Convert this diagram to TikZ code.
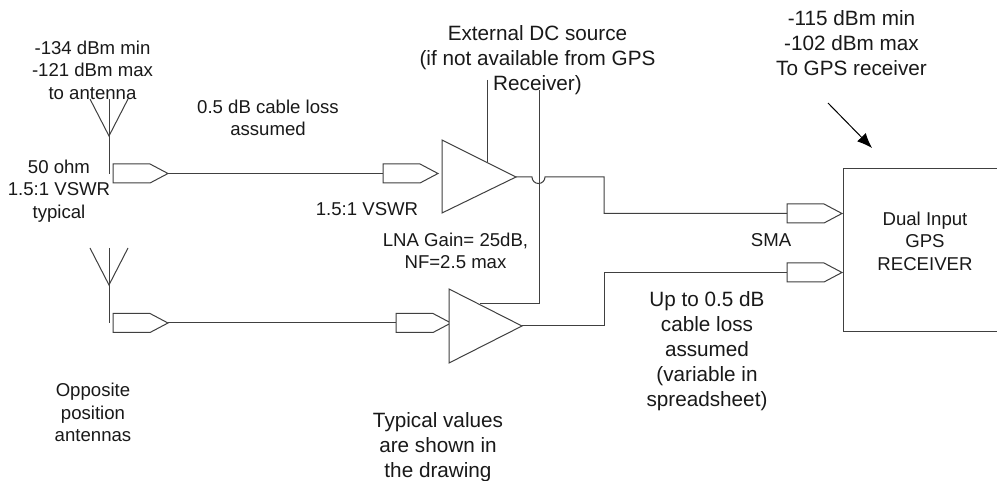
\documentclass[tikz,border=0pt]{standalone}
\usepackage{fontspec}
\setmainfont{Liberation Sans}
\usetikzlibrary{arrows.meta}
\tikzset{
  wire/.style={draw=black!75,line width=1pt,line join=miter},
  lbl/.style={align=center,font=\fontsize{18.6}{22.5}\selectfont,text=black!90,inner sep=0pt,anchor=center},
  lblwide/.style={lbl,font=\fontsize{20.7}{24.9}\selectfont},
  conn/.style={wire,fill=white},
  amp/.style={wire,fill=white}
}
\newcommand{\plug}[4]{% name, left x, centre y, (unused)
  \path[conn] (#2,#3-9.5) coordinate (#1top) -- (#2+37,#3-9.5) -- (#2+55,#3) coordinate (#1tip) -- (#2+37,#3+9.5) -- (#2,#3+9.5) -- cycle;
  \coordinate (#1in) at (#2,#3);
}
\begin{document}
\begin{tikzpicture}[x=1pt,y=-1pt]
\useasboundingbox (0,0) rectangle (997,481);
\fill[white] (0,0) rectangle (997,481);
% antennas
\coordinate (a1top) at (109,99); \coordinate (a1mid) at (109,136); \coordinate (a1bot) at (109,174);
\draw[wire] (a1top) -- (a1bot);
\draw[wire] (90,99) -- (a1mid) -- (128,99);
\coordinate (a2top) at (109,248); \coordinate (a2mid) at (109,285); \coordinate (a2bot) at (109,323);
\draw[wire] (a2top) -- (a2bot);
\draw[wire] (90,248) -- (a2mid) -- (128,248);
% plugs
\plug{pa}{113}{173.5}{}
\plug{pb}{383}{173.5}{}
\plug{pc}{113}{323}{}
\plug{pd}{396}{323}{}
\plug{pe}{787}{213.5}{}
\plug{pf}{787}{272.5}{}
\draw[wire] (patip) -- (pbin);
\draw[wire] (pctip) -- (pdin);
% amps
\path[amp] (442,140) coordinate (u1a) -- (516,177) coordinate (u1out) -- (442,213) -- cycle;
\path[amp] (449,289) coordinate (u2a) -- (522,326) coordinate (u2out) -- (449,363) -- cycle;
\coordinate (dc1t) at (487,80); \coordinate (dc1b) at (487,162);
\draw[wire] (dc1t) -- (dc1b);
\coordinate (dc2t) at (539,90); \coordinate (dc2k) at (539,304); \coordinate (dc2e) at (480,304);
\draw[wire] (dc2t) -- (dc2k) -- (dc2e);
% outputs
\draw[wire] (u1out) -- (532,177) arc[start angle=180,end angle=0,radius=6.5] -- (604,177) -- (604,213.5) -- (pein);
\draw[wire] (u2out) -- (604,326) -- (604,272.5) -- (pfin);
% receiver
\draw[wire] (997,169) -- (843,169) -- (843,332) -- (997,332);
\node[lbl] (rx) at (925,241) {Dual Input\\GPS\\RECEIVER};
% arrow
\coordinate (arS) at (828,103); \coordinate (arE) at (872,148);
\draw[black,line width=1pt,-{Latex[length=15pt,width=12pt]}] (arS) -- (arE);
% labels
\node[lbl] (t1) at (92.5,70) {-134 dBm min\\-121 dBm max\\to antenna};
\node[lbl] (t2) at (268,118) {0.5 dB cable loss\\assumed};
\node[lbl] (t3) at (59,191) {50 ohm\\1.5:1 VSWR\\typical};
\node[lblwide] (t4) at (537.5,60) {External DC source\\(if not available from GPS\\Receiver)};
\node[lblwide] (t5) at (851.5,43) {-115 dBm min\\-102 dBm max\\To GPS receiver};
\node[lbl] (t6) at (367,209) {1.5:1 VSWR};
\node[lbl] (t7) at (455.5,251) {LNA Gain= 25dB,\\NF=2.5 max};
\node[lbl] (t8) at (771,240) {SMA};
\node[lblwide] (t9) at (707,351) {Up to 0.5 dB\\cable loss\\assumed\\(variable in\\spreadsheet)};
\node[lbl] (t10) at (93,412.5) {Opposite\\position\\antennas};
\node[lblwide] (t11) at (438,447) {Typical values\\are shown in\\the drawing};
\end{tikzpicture}
\end{document}
